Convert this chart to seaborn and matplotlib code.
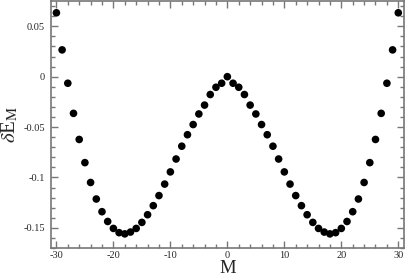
import numpy as np
import pandas as pd
import matplotlib
matplotlib.use("Agg")
import matplotlib.pyplot as plt
import seaborn as sns
from matplotlib.ticker import MultipleLocator

M = list(range(-30, 31))
dE = [0.0634, 0.0266, -0.0065, -0.0364, -0.0623, -0.0853, -0.105, -0.1214,
      -0.134, -0.1437, -0.1506, -0.1548, -0.156, -0.1542, -0.1506, -0.1446,
      -0.137, -0.128, -0.118, -0.1066, -0.0945, -0.0817, -0.069, -0.0576,
      -0.0475, -0.037, -0.0282, -0.0177, -0.0105, -0.0065, 0.0,
      -0.0065, -0.0105, -0.0177, -0.0282, -0.037, -0.0475, -0.0576, -0.069,
      -0.0817, -0.0945, -0.1066, -0.118, -0.128, -0.137, -0.1446, -0.1506,
      -0.1542, -0.156, -0.1548, -0.1506, -0.1437, -0.134, -0.1214, -0.105,
      -0.0853, -0.0623, -0.0364, -0.0065, 0.0266, 0.0634]

df = pd.DataFrame({"M": M, "dE": dE})

sns.set_style("ticks")
plt.rcParams['font.family'] = ['Liberation Serif', 'DejaVu Serif']
plt.rcParams['mathtext.fontset'] = 'stix'

fig = plt.figure(figsize=(4.07, 2.78), dpi=100)
ax = fig.add_axes([0.1246, 0.108, 0.868, 0.888])

sns.scatterplot(data=df, x="M", y="dE", ax=ax, color="black", s=30,
                edgecolor="none", legend=False)

ax.set_xlim(-31, 31)
ax.set_ylim(-0.17, 0.075)
ax.xaxis.set_major_locator(MultipleLocator(10))
ax.xaxis.set_minor_locator(MultipleLocator(2))
ax.yaxis.set_major_locator(MultipleLocator(0.05))
ax.yaxis.set_minor_locator(MultipleLocator(0.01))
ax.set_yticks([-0.15, -0.1, -0.05, 0, 0.05])
ax.set_yticklabels(["-0.15", "-0.1", "-0.05", "0", "0.05"])
ax.set_xticks([-30, -20, -10, 0, 10, 20, 30])
ax.set_xticklabels(["-30", "-20", "-10", "0", "10", "20", "30"])

ax.tick_params(which="both", direction="in", top=True, right=True,
               color="#777777", labelsize=7.5, pad=4)
ax.tick_params(axis="x", pad=2.5)
ax.tick_params(which="major", length=5, width=1)
ax.tick_params(which="minor", length=3, width=1)
for sp in ax.spines.values():
    sp.set_color("#777777")
    sp.set_linewidth(1.2)

ax.set_xlabel("M", fontsize=13.5, labelpad=-0.5)
ax.set_ylabel(r"$\delta$E$_{\mathrm{M}}$", fontsize=15, labelpad=2)

fig.savefig("out.png", dpi=100)
